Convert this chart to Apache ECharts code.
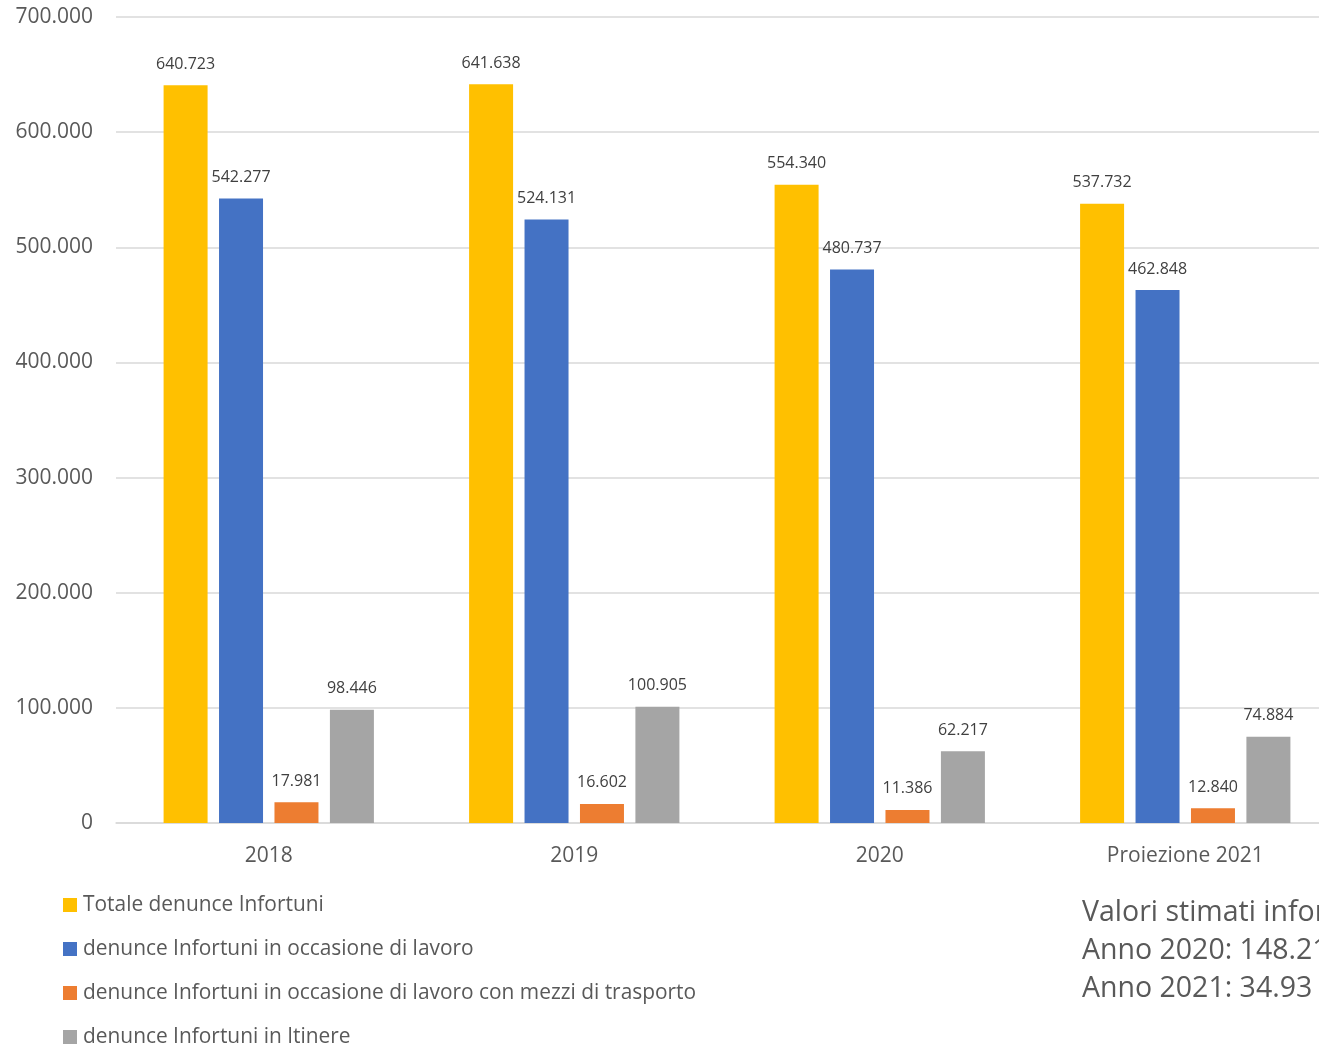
<!DOCTYPE html>
<html><head><meta charset="utf-8">
<script src="https://cdn.jsdelivr.net/npm/echarts@6/dist/echarts.min.js"></script>
<style>html,body{margin:0;padding:0;background:#fff;overflow:hidden;width:1319px;height:1048px}#c{width:1340px;height:1070px}</style>
</head><body><div id="c"></div>
<script>
const categories = ['2018', '2019', '2020', 'Proiezione 2021'];
const seriesNames = ['Totale denunce Infortuni', 'denunce Infortuni in occasione di lavoro', 'denunce Infortuni in occasione di lavoro con mezzi di trasporto', 'denunce Infortuni in Itinere'];
const totale = [640723, 641638, 554340, 537732];
const lavoro = [542277, 524131, 480737, 462848];
const trasporto = [17981, 16602, 11386, 12840];
const itinere = [98446, 100905, 62217, 74884];
const noteLines = ['Valori stimati infortuni', 'Anno 2020: 148.21', 'Anno 2021: 34.93'];
const colors = ['#FFC000', '#4472C4', '#ED7D31', '#A5A5A5'];

function fmt(v){ return String(Math.round(v)).replace(/\B(?=(\d{3})+(?!\d))/g, '.'); }
const FONT = '"Open Sans", "Noto Sans", sans-serif';
const chart = echarts.init(document.getElementById('c'));
const data = [totale, lavoro, trasporto, itinere];
chart.setOption({
  animation: false,
  color: colors,
  textStyle: {fontFamily: FONT},
  grid: {left: 116, top: 17, bottom: 247, width: 1222, containLabel: false},
  legend: {
    orient: 'vertical', left: 58, top: 888, height: 180, itemGap: 20, itemWidth: 14, itemHeight: 14,
    icon: 'rect', data: seriesNames,
    textStyle: {fontSize: 20.9, lineHeight: 24, color: '#595959', fontFamily: FONT, padding: [0,0,0,1]}
  },
  xAxis: {
    type: 'category', data: categories,
    axisTick: {show: false},
    axisLine: {lineStyle: {color: '#d9d9d9', width: 1.5}},
    axisLabel: {fontSize: 21, color: '#595959', margin: 23, fontFamily: FONT}
  },
  yAxis: {
    type: 'value', min: 0, max: 700000, interval: 100000,
    axisLabel: {fontSize: 21, color: '#595959', margin: 23, formatter: fmt, fontFamily: FONT},
    splitLine: {lineStyle: {color: '#d9d9d9', width: 1.5}},
    axisLine: {show: false}, axisTick: {show: false}
  },
  series: seriesNames.map((n, i) => ({
    name: n, type: 'bar', data: data[i], barWidth: 44, barGap: '26%',
    label: {show: true, position: 'top', distance: 13, fontSize: 16, color: '#404040', formatter: p => fmt(p.value), fontFamily: FONT}
  })),
  graphic: noteLines.map((t, i) => ({
    type: 'text', left: 1082, top: 898 + i * 38,
    style: {text: t, fontSize: 28.5, fill: '#595959', fontFamily: FONT}
  }))
});
</script></body></html>
